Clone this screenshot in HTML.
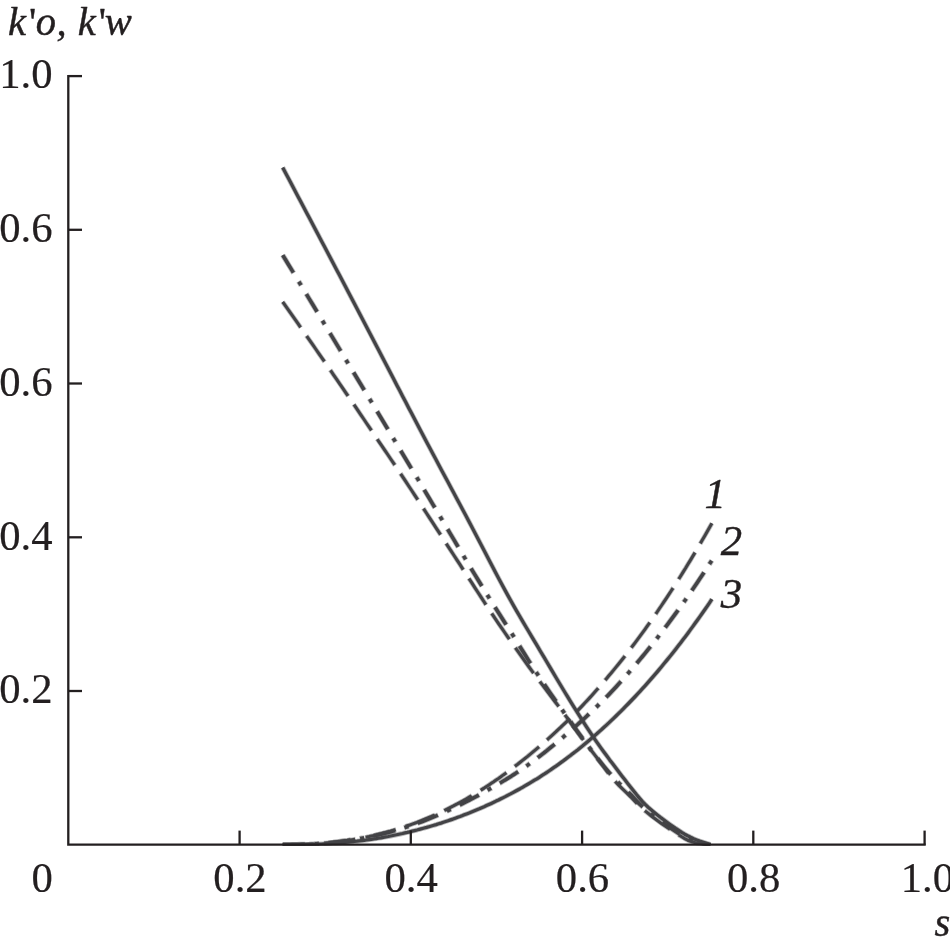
<!DOCTYPE html>
<html lang="en">
<head>
<meta charset="utf-8">
<title>Relative permeability curves</title>
<style>
html,body{margin:0;padding:0;background:#fff;}
body{width:950px;height:948px;overflow:hidden;font-family:"Liberation Serif","Times New Roman",serif;}
svg{display:block;}
</style>
</head>
<body>
<svg width="950" height="948" viewBox="0 0 950 948">
<rect width="950" height="948" fill="#fff"/>
<defs><clipPath id="plot"><rect x="0" y="0" width="950" height="845.85"/></clipPath></defs>
<g stroke="#434346" fill="none" stroke-linejoin="round" clip-path="url(#plot)">
<path d="M282.7,167.5 L285.7,173.2 L288.7,178.8 L291.7,184.5 L294.7,190.2 L297.7,195.9 L300.7,201.6 L303.7,207.2 L306.7,212.9 L309.7,218.6 L312.7,224.3 L315.7,230.0 L318.7,235.7 L321.7,241.4 L324.7,247.1 L327.7,252.8 L330.7,258.5 L333.7,264.2 L336.7,269.9 L339.7,275.6 L342.7,281.3 L345.7,287.0 L348.7,292.8 L351.7,298.5 L354.7,304.2 L357.7,309.9 L360.7,315.7 L363.7,321.4 L366.7,327.2 L369.7,332.9 L372.7,338.7 L375.7,344.5 L378.7,350.2 L381.7,356.0 L384.7,361.8 L387.7,367.5 L390.7,373.3 L393.7,379.1 L396.7,384.9 L399.7,390.6 L402.7,396.4 L405.7,402.1 L408.7,407.9 L411.7,413.6 L414.7,419.3 L417.7,425.1 L420.7,430.8 L423.7,436.5 L426.7,442.2 L429.7,447.8 L432.7,453.5 L435.7,459.1 L438.7,464.8 L441.7,470.4 L444.7,476.0 L447.7,481.6 L450.7,487.2 L453.7,492.8 L456.7,498.5 L459.7,504.1 L462.7,509.7 L465.7,515.3 L468.7,521.0 L471.7,526.7 L474.7,532.4 L477.7,538.2 L480.7,543.9 L483.7,549.7 L486.7,555.5 L489.7,561.3 L492.7,567.0 L495.7,572.8 L498.7,578.4 L501.7,584.1 L504.7,589.6 L507.7,595.1 L510.7,600.5 L513.7,605.9 L516.7,611.1 L519.7,616.3 L522.7,621.4 L525.7,626.5 L528.7,631.5 L531.7,636.6 L534.7,641.6 L537.7,646.6 L540.7,651.7 L543.7,656.7 L546.7,661.8 L549.7,666.8 L552.7,671.9 L555.7,677.0 L558.7,682.0 L561.7,687.0 L564.7,692.0 L567.7,696.9 L570.7,701.8 L573.7,706.7 L576.7,711.5 L579.7,716.2 L582.7,720.9 L585.7,725.6 L588.7,730.2 L591.7,734.7 L594.7,739.1 L597.7,743.4 L600.7,747.6 L603.7,751.8 L606.7,755.8 L609.7,759.9 L612.7,763.8 L615.7,767.8 L618.7,771.8 L621.7,775.7 L624.7,779.6 L627.7,783.4 L630.7,787.2 L633.7,791.0 L636.7,794.8 L639.7,798.4 L642.7,801.8 L645.7,804.9 L648.7,807.7 L651.7,810.3 L654.7,812.8 L657.7,815.2 L660.7,817.6 L663.7,819.8 L666.7,822.0 L669.7,824.2 L672.7,826.3 L675.7,828.4 L678.7,830.4 L681.7,832.4 L684.7,834.2 L687.7,835.8 L690.7,837.3 L693.7,838.7 L696.7,839.9 L699.7,841.1 L702.7,842.1 L705.7,843.1 L708.7,844.1 L710.5,844.7" stroke-width="4.9" stroke-opacity="0.36"/>
<path id="d3" d="M282.7,167.5 L285.7,173.2 L288.7,178.8 L291.7,184.5 L294.7,190.2 L297.7,195.9 L300.7,201.6 L303.7,207.2 L306.7,212.9 L309.7,218.6 L312.7,224.3 L315.7,230.0 L318.7,235.7 L321.7,241.4 L324.7,247.1 L327.7,252.8 L330.7,258.5 L333.7,264.2 L336.7,269.9 L339.7,275.6 L342.7,281.3 L345.7,287.0 L348.7,292.8 L351.7,298.5 L354.7,304.2 L357.7,309.9 L360.7,315.7 L363.7,321.4 L366.7,327.2 L369.7,332.9 L372.7,338.7 L375.7,344.5 L378.7,350.2 L381.7,356.0 L384.7,361.8 L387.7,367.5 L390.7,373.3 L393.7,379.1 L396.7,384.9 L399.7,390.6 L402.7,396.4 L405.7,402.1 L408.7,407.9 L411.7,413.6 L414.7,419.3 L417.7,425.1 L420.7,430.8 L423.7,436.5 L426.7,442.2 L429.7,447.8 L432.7,453.5 L435.7,459.1 L438.7,464.8 L441.7,470.4 L444.7,476.0 L447.7,481.6 L450.7,487.2 L453.7,492.8 L456.7,498.5 L459.7,504.1 L462.7,509.7 L465.7,515.3 L468.7,521.0 L471.7,526.7 L474.7,532.4 L477.7,538.2 L480.7,543.9 L483.7,549.7 L486.7,555.5 L489.7,561.3 L492.7,567.0 L495.7,572.8 L498.7,578.4 L501.7,584.1 L504.7,589.6 L507.7,595.1 L510.7,600.5 L513.7,605.9 L516.7,611.1 L519.7,616.3 L522.7,621.4 L525.7,626.5 L528.7,631.5 L531.7,636.6 L534.7,641.6 L537.7,646.6 L540.7,651.7 L543.7,656.7 L546.7,661.8 L549.7,666.8 L552.7,671.9 L555.7,677.0 L558.7,682.0 L561.7,687.0 L564.7,692.0 L567.7,696.9 L570.7,701.8 L573.7,706.7 L576.7,711.5 L579.7,716.2 L582.7,720.9 L585.7,725.6 L588.7,730.2 L591.7,734.7 L594.7,739.1 L597.7,743.4 L600.7,747.6 L603.7,751.8 L606.7,755.8 L609.7,759.9 L612.7,763.8 L615.7,767.8 L618.7,771.8 L621.7,775.7 L624.7,779.6 L627.7,783.4 L630.7,787.2 L633.7,791.0 L636.7,794.8 L639.7,798.4 L642.7,801.8 L645.7,804.9 L648.7,807.7 L651.7,810.3 L654.7,812.8 L657.7,815.2 L660.7,817.6 L663.7,819.8 L666.7,822.0 L669.7,824.2 L672.7,826.3 L675.7,828.4 L678.7,830.4 L681.7,832.4 L684.7,834.2 L687.7,835.8 L690.7,837.3 L693.7,838.7 L696.7,839.9 L699.7,841.1 L702.7,842.1 L705.7,843.1 L708.7,844.1 L710.5,844.7" stroke-width="3.25"/>
<path d="M282.7,255.1 L285.7,260.0 L288.7,265.0 L291.7,269.9 L294.7,274.8 L297.7,279.8 L300.7,284.7 L303.7,289.6 L306.7,294.6 L309.7,299.6 L312.7,304.5 L315.7,309.5 L318.7,314.5 L321.7,319.5 L324.7,324.5 L327.7,329.5 L330.7,334.4 L333.7,339.4 L336.7,344.4 L339.7,349.4 L342.7,354.4 L345.7,359.4 L348.7,364.4 L351.7,369.4 L354.7,374.3 L357.7,379.3 L360.7,384.2 L363.7,389.2 L366.7,394.1 L369.7,399.1 L372.7,404.1 L375.7,409.0 L378.7,414.0 L381.7,419.0 L384.7,424.0 L387.7,429.0 L390.7,434.0 L393.7,439.0 L396.7,444.0 L399.7,449.0 L402.7,454.0 L405.7,459.0 L408.7,464.0 L411.7,469.0 L414.7,474.0 L417.7,478.9 L420.7,483.9 L423.7,489.0 L426.7,494.0 L429.7,499.0 L432.7,504.1 L435.7,509.1 L438.7,514.2 L441.7,519.2 L444.7,524.3 L447.7,529.3 L450.7,534.4 L453.7,539.4 L456.7,544.5 L459.7,549.5 L462.7,554.5 L465.7,559.5 L468.7,564.5 L471.7,569.5 L474.7,574.4 L477.7,579.3 L480.7,584.2 L483.7,589.1 L486.7,593.9 L489.7,598.8 L492.7,603.5 L495.7,608.3 L498.7,613.0 L501.7,617.7 L504.7,622.5 L507.7,627.2 L510.7,631.9 L513.7,636.6 L516.7,641.4 L519.7,646.2 L522.7,651.0 L525.7,655.8 L528.7,660.6 L531.7,665.3 L534.7,670.0 L537.7,674.5 L540.7,679.0 L543.7,683.5 L546.7,687.8 L549.7,692.2 L552.7,696.5 L555.7,700.7 L558.7,705.0 L561.7,709.2 L564.7,713.5 L567.7,717.7 L570.7,721.9 L573.7,726.2 L576.7,730.3 L579.7,734.5 L582.7,738.6 L585.7,742.7 L588.7,746.7 L591.7,750.8 L594.7,754.7 L597.7,758.6 L600.7,762.4 L603.7,766.1 L606.7,769.7 L609.7,773.2 L612.7,776.6 L615.7,779.9 L618.7,782.9 L621.7,785.8 L624.7,788.7 L627.7,791.6 L630.7,794.6 L633.7,797.8 L636.7,801.1 L639.7,804.1 L642.7,806.9 L645.7,809.6 L648.7,812.2 L651.7,814.6 L654.7,816.9 L657.7,819.1 L660.7,821.3 L663.7,823.4 L666.7,825.5 L669.7,827.5 L672.7,829.5 L675.7,831.5 L678.7,833.5 L681.7,835.4 L684.7,837.2 L687.7,838.8 L690.7,840.1 L693.7,841.2 L696.7,842.1 L699.7,842.9 L702.7,843.5 L705.7,844.0 L708.7,844.5 L710.5,844.7" stroke-width="5.3" stroke-opacity="0.36" stroke-dasharray="21.5 9.6 5 9.6" stroke-dashoffset="0.5"/>
<path id="d2" d="M282.7,255.1 L285.7,260.0 L288.7,265.0 L291.7,269.9 L294.7,274.8 L297.7,279.8 L300.7,284.7 L303.7,289.6 L306.7,294.6 L309.7,299.6 L312.7,304.5 L315.7,309.5 L318.7,314.5 L321.7,319.5 L324.7,324.5 L327.7,329.5 L330.7,334.4 L333.7,339.4 L336.7,344.4 L339.7,349.4 L342.7,354.4 L345.7,359.4 L348.7,364.4 L351.7,369.4 L354.7,374.3 L357.7,379.3 L360.7,384.2 L363.7,389.2 L366.7,394.1 L369.7,399.1 L372.7,404.1 L375.7,409.0 L378.7,414.0 L381.7,419.0 L384.7,424.0 L387.7,429.0 L390.7,434.0 L393.7,439.0 L396.7,444.0 L399.7,449.0 L402.7,454.0 L405.7,459.0 L408.7,464.0 L411.7,469.0 L414.7,474.0 L417.7,478.9 L420.7,483.9 L423.7,489.0 L426.7,494.0 L429.7,499.0 L432.7,504.1 L435.7,509.1 L438.7,514.2 L441.7,519.2 L444.7,524.3 L447.7,529.3 L450.7,534.4 L453.7,539.4 L456.7,544.5 L459.7,549.5 L462.7,554.5 L465.7,559.5 L468.7,564.5 L471.7,569.5 L474.7,574.4 L477.7,579.3 L480.7,584.2 L483.7,589.1 L486.7,593.9 L489.7,598.8 L492.7,603.5 L495.7,608.3 L498.7,613.0 L501.7,617.7 L504.7,622.5 L507.7,627.2 L510.7,631.9 L513.7,636.6 L516.7,641.4 L519.7,646.2 L522.7,651.0 L525.7,655.8 L528.7,660.6 L531.7,665.3 L534.7,670.0 L537.7,674.5 L540.7,679.0 L543.7,683.5 L546.7,687.8 L549.7,692.2 L552.7,696.5 L555.7,700.7 L558.7,705.0 L561.7,709.2 L564.7,713.5 L567.7,717.7 L570.7,721.9 L573.7,726.2 L576.7,730.3 L579.7,734.5 L582.7,738.6 L585.7,742.7 L588.7,746.7 L591.7,750.8 L594.7,754.7 L597.7,758.6 L600.7,762.4 L603.7,766.1 L606.7,769.7 L609.7,773.2 L612.7,776.6 L615.7,779.9 L618.7,782.9 L621.7,785.8 L624.7,788.7 L627.7,791.6 L630.7,794.6 L633.7,797.8 L636.7,801.1 L639.7,804.1 L642.7,806.9 L645.7,809.6 L648.7,812.2 L651.7,814.6 L654.7,816.9 L657.7,819.1 L660.7,821.3 L663.7,823.4 L666.7,825.5 L669.7,827.5 L672.7,829.5 L675.7,831.5 L678.7,833.5 L681.7,835.4 L684.7,837.2 L687.7,838.8 L690.7,840.1 L693.7,841.2 L696.7,842.1 L699.7,842.9 L702.7,843.5 L705.7,844.0 L708.7,844.5 L710.5,844.7" stroke-width="3.65" stroke-dasharray="20.5 10.6 4 10.6" stroke-dashoffset="0"/>
<path d="M282.7,301.9 L285.7,306.1 L288.7,310.4 L291.7,314.7 L294.7,318.9 L297.7,323.2 L300.7,327.5 L303.7,331.8 L306.7,336.1 L309.7,340.4 L312.7,344.7 L315.7,349.0 L318.7,353.3 L321.7,357.7 L324.7,362.0 L327.7,366.4 L330.7,370.7 L333.7,375.1 L336.7,379.4 L339.7,383.8 L342.7,388.2 L345.7,392.6 L348.7,397.0 L351.7,401.3 L354.7,405.7 L357.7,410.1 L360.7,414.6 L363.7,419.0 L366.7,423.5 L369.7,427.9 L372.7,432.4 L375.7,436.8 L378.7,441.3 L381.7,445.7 L384.7,450.1 L387.7,454.5 L390.7,459.0 L393.7,463.4 L396.7,467.9 L399.7,472.3 L402.7,476.9 L405.7,481.4 L408.7,486.0 L411.7,490.5 L414.7,495.1 L417.7,499.7 L420.7,504.3 L423.7,508.9 L426.7,513.5 L429.7,518.1 L432.7,522.7 L435.7,527.3 L438.7,531.9 L441.7,536.5 L444.7,541.2 L447.7,545.8 L450.7,550.4 L453.7,555.0 L456.7,559.6 L459.7,564.2 L462.7,568.9 L465.7,573.5 L468.7,578.1 L471.7,582.7 L474.7,587.4 L477.7,592.0 L480.7,596.6 L483.7,601.3 L486.7,605.9 L489.7,610.4 L492.7,614.9 L495.7,619.3 L498.7,623.8 L501.7,628.1 L504.7,632.5 L507.7,636.8 L510.7,641.1 L513.7,645.4 L516.7,649.7 L519.7,653.9 L522.7,658.2 L525.7,662.4 L528.7,666.5 L531.7,670.6 L534.7,674.7 L537.7,678.7 L540.7,682.7 L543.7,686.7 L546.7,690.7 L549.7,694.6 L552.7,698.5 L555.7,702.5 L558.7,706.4 L561.7,710.4 L564.7,714.5 L567.7,718.6 L570.7,722.7 L573.7,726.8 L576.7,731.0 L579.7,735.0 L582.7,739.1 L585.7,743.1 L588.7,747.1 L591.7,751.0 L594.7,754.9 L597.7,758.8 L600.7,762.7 L603.7,766.7 L606.7,770.8 L609.7,774.8 L612.7,778.6 L615.7,782.0 L618.7,785.2 L621.7,788.1 L624.7,791.0 L627.7,793.8 L630.7,796.8 L633.7,800.0 L636.7,803.1 L639.7,806.1 L642.7,808.8 L645.7,811.4 L648.7,813.8 L651.7,816.2 L654.7,818.5 L657.7,820.7 L660.7,822.9 L663.7,825.0 L666.7,827.0 L669.7,829.1 L672.7,831.0 L675.7,833.0 L678.7,834.9 L681.7,836.8 L684.7,838.6 L687.7,840.2 L690.7,841.3 L693.7,842.3 L696.7,843.1 L699.7,843.6 L702.7,844.0 L705.7,844.4 L708.7,844.6 L710.5,844.7" stroke-width="4.7" stroke-opacity="0.36" stroke-dasharray="32 9.7" stroke-dashoffset="0.5"/>
<path id="d1" d="M282.7,301.9 L285.7,306.1 L288.7,310.4 L291.7,314.7 L294.7,318.9 L297.7,323.2 L300.7,327.5 L303.7,331.8 L306.7,336.1 L309.7,340.4 L312.7,344.7 L315.7,349.0 L318.7,353.3 L321.7,357.7 L324.7,362.0 L327.7,366.4 L330.7,370.7 L333.7,375.1 L336.7,379.4 L339.7,383.8 L342.7,388.2 L345.7,392.6 L348.7,397.0 L351.7,401.3 L354.7,405.7 L357.7,410.1 L360.7,414.6 L363.7,419.0 L366.7,423.5 L369.7,427.9 L372.7,432.4 L375.7,436.8 L378.7,441.3 L381.7,445.7 L384.7,450.1 L387.7,454.5 L390.7,459.0 L393.7,463.4 L396.7,467.9 L399.7,472.3 L402.7,476.9 L405.7,481.4 L408.7,486.0 L411.7,490.5 L414.7,495.1 L417.7,499.7 L420.7,504.3 L423.7,508.9 L426.7,513.5 L429.7,518.1 L432.7,522.7 L435.7,527.3 L438.7,531.9 L441.7,536.5 L444.7,541.2 L447.7,545.8 L450.7,550.4 L453.7,555.0 L456.7,559.6 L459.7,564.2 L462.7,568.9 L465.7,573.5 L468.7,578.1 L471.7,582.7 L474.7,587.4 L477.7,592.0 L480.7,596.6 L483.7,601.3 L486.7,605.9 L489.7,610.4 L492.7,614.9 L495.7,619.3 L498.7,623.8 L501.7,628.1 L504.7,632.5 L507.7,636.8 L510.7,641.1 L513.7,645.4 L516.7,649.7 L519.7,653.9 L522.7,658.2 L525.7,662.4 L528.7,666.5 L531.7,670.6 L534.7,674.7 L537.7,678.7 L540.7,682.7 L543.7,686.7 L546.7,690.7 L549.7,694.6 L552.7,698.5 L555.7,702.5 L558.7,706.4 L561.7,710.4 L564.7,714.5 L567.7,718.6 L570.7,722.7 L573.7,726.8 L576.7,731.0 L579.7,735.0 L582.7,739.1 L585.7,743.1 L588.7,747.1 L591.7,751.0 L594.7,754.9 L597.7,758.8 L600.7,762.7 L603.7,766.7 L606.7,770.8 L609.7,774.8 L612.7,778.6 L615.7,782.0 L618.7,785.2 L621.7,788.1 L624.7,791.0 L627.7,793.8 L630.7,796.8 L633.7,800.0 L636.7,803.1 L639.7,806.1 L642.7,808.8 L645.7,811.4 L648.7,813.8 L651.7,816.2 L654.7,818.5 L657.7,820.7 L660.7,822.9 L663.7,825.0 L666.7,827.0 L669.7,829.1 L672.7,831.0 L675.7,833.0 L678.7,834.9 L681.7,836.8 L684.7,838.6 L687.7,840.2 L690.7,841.3 L693.7,842.3 L696.7,843.1 L699.7,843.6 L702.7,844.0 L705.7,844.4 L708.7,844.6 L710.5,844.7" stroke-width="3.05" stroke-dasharray="31 10.7" stroke-dashoffset="0"/>
<path d="M282.7,844.7 L285.1,844.7 L287.5,844.7 L289.9,844.7 L292.3,844.7 L294.7,844.7 L297.1,844.6 L299.5,844.6 L301.9,844.6 L304.3,844.5 L306.7,844.5 L309.1,844.4 L311.5,844.3 L313.9,844.3 L316.3,844.2 L318.7,844.1 L321.1,844.0 L323.5,843.9 L325.9,843.8 L328.3,843.6 L330.7,843.5 L333.1,843.3 L335.5,843.2 L337.8,843.0 L340.2,842.8 L342.6,842.6 L345.0,842.4 L347.4,842.2 L349.8,841.9 L352.2,841.7 L354.6,841.4 L357.0,841.2 L359.4,840.9 L361.8,840.6 L364.2,840.3 L366.6,840.0 L369.0,839.6 L371.4,839.3 L373.8,838.9 L376.2,838.6 L378.6,838.2 L381.0,837.8 L383.4,837.3 L385.8,836.9 L388.2,836.5 L390.6,836.0 L393.0,835.5 L395.4,835.0 L397.8,834.5 L400.2,834.0 L402.6,833.5 L405.0,832.9 L407.4,832.4 L409.8,831.8 L412.2,831.2 L414.6,830.6 L417.0,830.0 L419.4,829.3 L421.8,828.7 L424.2,828.0 L426.6,827.4 L429.0,826.7 L431.4,826.0 L433.8,825.3 L436.2,824.6 L438.6,823.8 L441.0,823.1 L443.4,822.3 L445.7,821.5 L448.1,820.7 L450.5,819.9 L452.9,819.1 L455.3,818.2 L457.7,817.3 L460.1,816.5 L462.5,815.6 L464.9,814.6 L467.3,813.7 L469.7,812.8 L472.1,811.8 L474.5,810.8 L476.9,809.8 L479.3,808.8 L481.7,807.7 L484.1,806.7 L486.5,805.6 L488.9,804.5 L491.3,803.4 L493.7,802.3 L496.1,801.1 L498.5,800.0 L500.9,798.8 L503.3,797.6 L505.7,796.4 L508.1,795.1 L510.5,793.9 L512.9,792.6 L515.3,791.3 L517.7,790.0 L520.1,788.7 L522.5,787.3 L524.9,785.9 L527.3,784.5 L529.7,783.1 L532.1,781.7 L534.5,780.2 L536.9,778.8 L539.3,777.3 L541.7,775.7 L544.1,774.2 L546.5,772.6 L548.9,771.0 L551.2,769.4 L553.6,767.7 L556.0,766.1 L558.4,764.4 L560.8,762.6 L563.2,760.9 L565.6,759.1 L568.0,757.3 L570.4,755.5 L572.8,753.6 L575.2,751.8 L577.6,749.9 L580.0,747.9 L582.4,746.0 L584.8,744.0 L587.2,742.0 L589.6,740.0 L592.0,737.9 L594.4,735.9 L596.8,733.8 L599.2,731.6 L601.6,729.5 L604.0,727.3 L606.4,725.1 L608.8,722.9 L611.2,720.6 L613.6,718.3 L616.0,716.0 L618.4,713.6 L620.8,711.3 L623.2,708.9 L625.6,706.4 L628.0,704.0 L630.4,701.5 L632.8,699.0 L635.2,696.5 L637.6,693.9 L640.0,691.3 L642.4,688.7 L644.8,686.1 L647.2,683.4 L649.6,680.7 L652.0,677.9 L654.4,675.2 L656.8,672.4 L659.1,669.6 L661.5,666.7 L663.9,663.8 L666.3,660.9 L668.7,657.9 L671.1,655.0 L673.5,651.9 L675.9,648.9 L678.3,645.8 L680.7,642.7 L683.1,639.6 L685.5,636.4 L687.9,633.2 L690.3,629.9 L692.7,626.6 L695.1,623.3 L697.5,620.0 L699.9,616.6 L702.3,613.2 L704.7,609.8 L707.1,606.3 L709.5,602.8 L711.9,599.2" stroke-width="4.9" stroke-opacity="0.36"/>
<path id="a3" d="M282.7,844.7 L285.1,844.7 L287.5,844.7 L289.9,844.7 L292.3,844.7 L294.7,844.7 L297.1,844.6 L299.5,844.6 L301.9,844.6 L304.3,844.5 L306.7,844.5 L309.1,844.4 L311.5,844.3 L313.9,844.3 L316.3,844.2 L318.7,844.1 L321.1,844.0 L323.5,843.9 L325.9,843.8 L328.3,843.6 L330.7,843.5 L333.1,843.3 L335.5,843.2 L337.8,843.0 L340.2,842.8 L342.6,842.6 L345.0,842.4 L347.4,842.2 L349.8,841.9 L352.2,841.7 L354.6,841.4 L357.0,841.2 L359.4,840.9 L361.8,840.6 L364.2,840.3 L366.6,840.0 L369.0,839.6 L371.4,839.3 L373.8,838.9 L376.2,838.6 L378.6,838.2 L381.0,837.8 L383.4,837.3 L385.8,836.9 L388.2,836.5 L390.6,836.0 L393.0,835.5 L395.4,835.0 L397.8,834.5 L400.2,834.0 L402.6,833.5 L405.0,832.9 L407.4,832.4 L409.8,831.8 L412.2,831.2 L414.6,830.6 L417.0,830.0 L419.4,829.3 L421.8,828.7 L424.2,828.0 L426.6,827.4 L429.0,826.7 L431.4,826.0 L433.8,825.3 L436.2,824.6 L438.6,823.8 L441.0,823.1 L443.4,822.3 L445.7,821.5 L448.1,820.7 L450.5,819.9 L452.9,819.1 L455.3,818.2 L457.7,817.3 L460.1,816.5 L462.5,815.6 L464.9,814.6 L467.3,813.7 L469.7,812.8 L472.1,811.8 L474.5,810.8 L476.9,809.8 L479.3,808.8 L481.7,807.7 L484.1,806.7 L486.5,805.6 L488.9,804.5 L491.3,803.4 L493.7,802.3 L496.1,801.1 L498.5,800.0 L500.9,798.8 L503.3,797.6 L505.7,796.4 L508.1,795.1 L510.5,793.9 L512.9,792.6 L515.3,791.3 L517.7,790.0 L520.1,788.7 L522.5,787.3 L524.9,785.9 L527.3,784.5 L529.7,783.1 L532.1,781.7 L534.5,780.2 L536.9,778.8 L539.3,777.3 L541.7,775.7 L544.1,774.2 L546.5,772.6 L548.9,771.0 L551.2,769.4 L553.6,767.7 L556.0,766.1 L558.4,764.4 L560.8,762.6 L563.2,760.9 L565.6,759.1 L568.0,757.3 L570.4,755.5 L572.8,753.6 L575.2,751.8 L577.6,749.9 L580.0,747.9 L582.4,746.0 L584.8,744.0 L587.2,742.0 L589.6,740.0 L592.0,737.9 L594.4,735.9 L596.8,733.8 L599.2,731.6 L601.6,729.5 L604.0,727.3 L606.4,725.1 L608.8,722.9 L611.2,720.6 L613.6,718.3 L616.0,716.0 L618.4,713.6 L620.8,711.3 L623.2,708.9 L625.6,706.4 L628.0,704.0 L630.4,701.5 L632.8,699.0 L635.2,696.5 L637.6,693.9 L640.0,691.3 L642.4,688.7 L644.8,686.1 L647.2,683.4 L649.6,680.7 L652.0,677.9 L654.4,675.2 L656.8,672.4 L659.1,669.6 L661.5,666.7 L663.9,663.8 L666.3,660.9 L668.7,657.9 L671.1,655.0 L673.5,651.9 L675.9,648.9 L678.3,645.8 L680.7,642.7 L683.1,639.6 L685.5,636.4 L687.9,633.2 L690.3,629.9 L692.7,626.6 L695.1,623.3 L697.5,620.0 L699.9,616.6 L702.3,613.2 L704.7,609.8 L707.1,606.3 L709.5,602.8 L711.9,599.2" stroke-width="3.25"/>
<path d="M282.7,844.7 L285.1,844.7 L287.5,844.7 L289.9,844.7 L292.3,844.6 L294.7,844.6 L297.1,844.6 L299.5,844.5 L301.9,844.4 L304.3,844.3 L306.7,844.3 L309.1,844.1 L311.5,844.0 L313.9,843.9 L316.3,843.8 L318.7,843.6 L321.1,843.4 L323.5,843.2 L325.9,843.0 L328.3,842.8 L330.7,842.6 L333.1,842.4 L335.5,842.1 L337.8,841.8 L340.2,841.5 L342.6,841.2 L345.0,840.9 L347.4,840.6 L349.8,840.2 L352.2,839.9 L354.6,839.5 L357.0,839.1 L359.4,838.7 L361.8,838.2 L364.2,837.8 L366.6,837.3 L369.0,836.8 L371.4,836.3 L373.8,835.8 L376.2,835.3 L378.6,834.7 L381.0,834.2 L383.4,833.6 L385.8,833.0 L388.2,832.4 L390.6,831.7 L393.0,831.1 L395.4,830.4 L397.8,829.7 L400.2,829.0 L402.6,828.3 L405.0,827.5 L407.4,826.8 L409.8,826.0 L412.2,825.2 L414.6,824.3 L417.0,823.5 L419.4,822.6 L421.8,821.7 L424.2,820.8 L426.6,819.8 L429.0,818.9 L431.4,817.9 L433.8,816.9 L436.2,815.9 L438.6,814.8 L441.0,813.8 L443.4,812.7 L445.7,811.6 L448.1,810.5 L450.5,809.4 L452.9,808.3 L455.3,807.1 L457.7,806.0 L460.1,804.8 L462.5,803.6 L464.9,802.4 L467.3,801.2 L469.7,800.0 L472.1,798.7 L474.5,797.4 L476.9,796.2 L479.3,794.8 L481.7,793.5 L484.1,792.2 L486.5,790.8 L488.9,789.4 L491.3,788.1 L493.7,786.7 L496.1,785.3 L498.5,783.9 L500.9,782.5 L503.3,781.0 L505.7,779.6 L508.1,778.1 L510.5,776.7 L512.9,775.1 L515.3,773.6 L517.7,772.0 L520.1,770.4 L522.5,768.7 L524.9,767.1 L527.3,765.4 L529.7,763.6 L532.1,761.9 L534.5,760.1 L536.9,758.3 L539.3,756.5 L541.7,754.6 L544.1,752.8 L546.5,750.9 L548.9,748.9 L551.2,747.0 L553.6,745.1 L556.0,743.1 L558.4,741.1 L560.8,739.1 L563.2,737.1 L565.6,735.0 L568.0,732.9 L570.4,730.9 L572.8,728.8 L575.2,726.6 L577.6,724.5 L580.0,722.3 L582.4,720.2 L584.8,718.0 L587.2,715.7 L589.6,713.5 L592.0,711.2 L594.4,708.9 L596.8,706.6 L599.2,704.2 L601.6,701.8 L604.0,699.4 L606.4,697.0 L608.8,694.6 L611.2,692.1 L613.6,689.5 L616.0,686.9 L618.4,684.3 L620.8,681.6 L623.2,679.0 L625.6,676.2 L628.0,673.5 L630.4,670.7 L632.8,667.9 L635.2,665.1 L637.6,662.3 L640.0,659.4 L642.4,656.5 L644.8,653.6 L647.2,650.6 L649.6,647.7 L652.0,644.7 L654.4,641.6 L656.8,638.6 L659.1,635.5 L661.5,632.4 L663.9,629.2 L666.3,626.1 L668.7,622.9 L671.1,619.6 L673.5,616.4 L675.9,613.1 L678.3,609.8 L680.7,606.4 L683.1,603.1 L685.5,599.7 L687.9,596.2 L690.3,592.8 L692.7,589.3 L695.1,585.8 L697.5,582.2 L699.9,578.6 L702.3,575.0 L704.7,571.4 L707.1,567.7 L709.5,564.0 L711.9,560.3" stroke-width="5.3" stroke-opacity="0.36" stroke-dasharray="22.5 9.1 5 9.1" stroke-dashoffset="0"/>
<path id="a2" d="M282.7,844.7 L285.1,844.7 L287.5,844.7 L289.9,844.7 L292.3,844.6 L294.7,844.6 L297.1,844.6 L299.5,844.5 L301.9,844.4 L304.3,844.3 L306.7,844.3 L309.1,844.1 L311.5,844.0 L313.9,843.9 L316.3,843.8 L318.7,843.6 L321.1,843.4 L323.5,843.2 L325.9,843.0 L328.3,842.8 L330.7,842.6 L333.1,842.4 L335.5,842.1 L337.8,841.8 L340.2,841.5 L342.6,841.2 L345.0,840.9 L347.4,840.6 L349.8,840.2 L352.2,839.9 L354.6,839.5 L357.0,839.1 L359.4,838.7 L361.8,838.2 L364.2,837.8 L366.6,837.3 L369.0,836.8 L371.4,836.3 L373.8,835.8 L376.2,835.3 L378.6,834.7 L381.0,834.2 L383.4,833.6 L385.8,833.0 L388.2,832.4 L390.6,831.7 L393.0,831.1 L395.4,830.4 L397.8,829.7 L400.2,829.0 L402.6,828.3 L405.0,827.5 L407.4,826.8 L409.8,826.0 L412.2,825.2 L414.6,824.3 L417.0,823.5 L419.4,822.6 L421.8,821.7 L424.2,820.8 L426.6,819.8 L429.0,818.9 L431.4,817.9 L433.8,816.9 L436.2,815.9 L438.6,814.8 L441.0,813.8 L443.4,812.7 L445.7,811.6 L448.1,810.5 L450.5,809.4 L452.9,808.3 L455.3,807.1 L457.7,806.0 L460.1,804.8 L462.5,803.6 L464.9,802.4 L467.3,801.2 L469.7,800.0 L472.1,798.7 L474.5,797.4 L476.9,796.2 L479.3,794.8 L481.7,793.5 L484.1,792.2 L486.5,790.8 L488.9,789.4 L491.3,788.1 L493.7,786.7 L496.1,785.3 L498.5,783.9 L500.9,782.5 L503.3,781.0 L505.7,779.6 L508.1,778.1 L510.5,776.7 L512.9,775.1 L515.3,773.6 L517.7,772.0 L520.1,770.4 L522.5,768.7 L524.9,767.1 L527.3,765.4 L529.7,763.6 L532.1,761.9 L534.5,760.1 L536.9,758.3 L539.3,756.5 L541.7,754.6 L544.1,752.8 L546.5,750.9 L548.9,748.9 L551.2,747.0 L553.6,745.1 L556.0,743.1 L558.4,741.1 L560.8,739.1 L563.2,737.1 L565.6,735.0 L568.0,732.9 L570.4,730.9 L572.8,728.8 L575.2,726.6 L577.6,724.5 L580.0,722.3 L582.4,720.2 L584.8,718.0 L587.2,715.7 L589.6,713.5 L592.0,711.2 L594.4,708.9 L596.8,706.6 L599.2,704.2 L601.6,701.8 L604.0,699.4 L606.4,697.0 L608.8,694.6 L611.2,692.1 L613.6,689.5 L616.0,686.9 L618.4,684.3 L620.8,681.6 L623.2,679.0 L625.6,676.2 L628.0,673.5 L630.4,670.7 L632.8,667.9 L635.2,665.1 L637.6,662.3 L640.0,659.4 L642.4,656.5 L644.8,653.6 L647.2,650.6 L649.6,647.7 L652.0,644.7 L654.4,641.6 L656.8,638.6 L659.1,635.5 L661.5,632.4 L663.9,629.2 L666.3,626.1 L668.7,622.9 L671.1,619.6 L673.5,616.4 L675.9,613.1 L678.3,609.8 L680.7,606.4 L683.1,603.1 L685.5,599.7 L687.9,596.2 L690.3,592.8 L692.7,589.3 L695.1,585.8 L697.5,582.2 L699.9,578.6 L702.3,575.0 L704.7,571.4 L707.1,567.7 L709.5,564.0 L711.9,560.3" stroke-width="3.65" stroke-dasharray="21.5 10.1 4 10.1" stroke-dashoffset="-0.5"/>
<path d="M282.7,844.7 L285.1,844.7 L287.5,844.7 L289.9,844.7 L292.3,844.6 L294.7,844.6 L297.1,844.6 L299.5,844.5 L301.9,844.4 L304.3,844.4 L306.7,844.3 L309.1,844.2 L311.5,844.0 L313.9,843.9 L316.3,843.7 L318.7,843.6 L321.1,843.4 L323.5,843.2 L325.9,843.0 L328.3,842.8 L330.7,842.6 L333.1,842.3 L335.5,842.0 L337.8,841.8 L340.2,841.5 L342.6,841.1 L345.0,840.8 L347.4,840.5 L349.8,840.1 L352.2,839.7 L354.6,839.3 L357.0,838.9 L359.4,838.5 L361.8,838.0 L364.2,837.5 L366.6,837.1 L369.0,836.6 L371.4,836.0 L373.8,835.5 L376.2,834.9 L378.6,834.3 L381.0,833.7 L383.4,833.1 L385.8,832.5 L388.2,831.8 L390.6,831.2 L393.0,830.5 L395.4,829.7 L397.8,829.0 L400.2,828.2 L402.6,827.5 L405.0,826.7 L407.4,825.8 L409.8,825.0 L412.2,824.1 L414.6,823.3 L417.0,822.4 L419.4,821.4 L421.8,820.5 L424.2,819.5 L426.6,818.5 L429.0,817.5 L431.4,816.5 L433.8,815.4 L436.2,814.4 L438.6,813.3 L441.0,812.1 L443.4,811.0 L445.7,809.8 L448.1,808.6 L450.5,807.4 L452.9,806.2 L455.3,804.9 L457.7,803.7 L460.1,802.4 L462.5,801.0 L464.9,799.7 L467.3,798.3 L469.7,796.9 L472.1,795.5 L474.5,794.1 L476.9,792.6 L479.3,791.1 L481.7,789.6 L484.1,788.1 L486.5,786.5 L488.9,784.9 L491.3,783.3 L493.7,781.7 L496.1,780.0 L498.5,778.4 L500.9,776.7 L503.3,774.9 L505.7,773.2 L508.1,771.4 L510.5,769.6 L512.9,767.8 L515.3,766.0 L517.7,764.2 L520.1,762.3 L522.5,760.4 L524.9,758.5 L527.3,756.6 L529.7,754.6 L532.1,752.6 L534.5,750.6 L536.9,748.6 L539.3,746.6 L541.7,744.5 L544.1,742.4 L546.5,740.3 L548.9,738.2 L551.2,736.1 L553.6,733.9 L556.0,731.7 L558.4,729.4 L560.8,727.2 L563.2,724.9 L565.6,722.6 L568.0,720.3 L570.4,717.9 L572.8,715.5 L575.2,713.1 L577.6,710.6 L580.0,708.1 L582.4,705.6 L584.8,703.0 L587.2,700.5 L589.6,697.9 L592.0,695.2 L594.4,692.5 L596.8,689.8 L599.2,687.1 L601.6,684.3 L604.0,681.5 L606.4,678.7 L608.8,675.8 L611.2,673.0 L613.6,670.1 L616.0,667.1 L618.4,664.2 L620.8,661.2 L623.2,658.2 L625.6,655.1 L628.0,652.0 L630.4,648.9 L632.8,645.8 L635.2,642.6 L637.6,639.4 L640.0,636.2 L642.4,632.9 L644.8,629.6 L647.2,626.2 L649.6,622.9 L652.0,619.5 L654.4,616.0 L656.8,612.5 L659.1,609.0 L661.5,605.5 L663.9,601.9 L666.3,598.3 L668.7,594.7 L671.1,591.0 L673.5,587.3 L675.9,583.6 L678.3,579.8 L680.7,576.0 L683.1,572.1 L685.5,568.3 L687.9,564.3 L690.3,560.4 L692.7,556.4 L695.1,552.4 L697.5,548.3 L699.9,544.2 L702.3,540.1 L704.7,535.9 L707.1,531.8 L709.5,527.5 L711.9,523.3" stroke-width="4.7" stroke-opacity="0.36" stroke-dasharray="32 9.7" stroke-dashoffset="0.5"/>
<path id="a1" d="M282.7,844.7 L285.1,844.7 L287.5,844.7 L289.9,844.7 L292.3,844.6 L294.7,844.6 L297.1,844.6 L299.5,844.5 L301.9,844.4 L304.3,844.4 L306.7,844.3 L309.1,844.2 L311.5,844.0 L313.9,843.9 L316.3,843.7 L318.7,843.6 L321.1,843.4 L323.5,843.2 L325.9,843.0 L328.3,842.8 L330.7,842.6 L333.1,842.3 L335.5,842.0 L337.8,841.8 L340.2,841.5 L342.6,841.1 L345.0,840.8 L347.4,840.5 L349.8,840.1 L352.2,839.7 L354.6,839.3 L357.0,838.9 L359.4,838.5 L361.8,838.0 L364.2,837.5 L366.6,837.1 L369.0,836.6 L371.4,836.0 L373.8,835.5 L376.2,834.9 L378.6,834.3 L381.0,833.7 L383.4,833.1 L385.8,832.5 L388.2,831.8 L390.6,831.2 L393.0,830.5 L395.4,829.7 L397.8,829.0 L400.2,828.2 L402.6,827.5 L405.0,826.7 L407.4,825.8 L409.8,825.0 L412.2,824.1 L414.6,823.3 L417.0,822.4 L419.4,821.4 L421.8,820.5 L424.2,819.5 L426.6,818.5 L429.0,817.5 L431.4,816.5 L433.8,815.4 L436.2,814.4 L438.6,813.3 L441.0,812.1 L443.4,811.0 L445.7,809.8 L448.1,808.6 L450.5,807.4 L452.9,806.2 L455.3,804.9 L457.7,803.7 L460.1,802.4 L462.5,801.0 L464.9,799.7 L467.3,798.3 L469.7,796.9 L472.1,795.5 L474.5,794.1 L476.9,792.6 L479.3,791.1 L481.7,789.6 L484.1,788.1 L486.5,786.5 L488.9,784.9 L491.3,783.3 L493.7,781.7 L496.1,780.0 L498.5,778.4 L500.9,776.7 L503.3,774.9 L505.7,773.2 L508.1,771.4 L510.5,769.6 L512.9,767.8 L515.3,766.0 L517.7,764.2 L520.1,762.3 L522.5,760.4 L524.9,758.5 L527.3,756.6 L529.7,754.6 L532.1,752.6 L534.5,750.6 L536.9,748.6 L539.3,746.6 L541.7,744.5 L544.1,742.4 L546.5,740.3 L548.9,738.2 L551.2,736.1 L553.6,733.9 L556.0,731.7 L558.4,729.4 L560.8,727.2 L563.2,724.9 L565.6,722.6 L568.0,720.3 L570.4,717.9 L572.8,715.5 L575.2,713.1 L577.6,710.6 L580.0,708.1 L582.4,705.6 L584.8,703.0 L587.2,700.5 L589.6,697.9 L592.0,695.2 L594.4,692.5 L596.8,689.8 L599.2,687.1 L601.6,684.3 L604.0,681.5 L606.4,678.7 L608.8,675.8 L611.2,673.0 L613.6,670.1 L616.0,667.1 L618.4,664.2 L620.8,661.2 L623.2,658.2 L625.6,655.1 L628.0,652.0 L630.4,648.9 L632.8,645.8 L635.2,642.6 L637.6,639.4 L640.0,636.2 L642.4,632.9 L644.8,629.6 L647.2,626.2 L649.6,622.9 L652.0,619.5 L654.4,616.0 L656.8,612.5 L659.1,609.0 L661.5,605.5 L663.9,601.9 L666.3,598.3 L668.7,594.7 L671.1,591.0 L673.5,587.3 L675.9,583.6 L678.3,579.8 L680.7,576.0 L683.1,572.1 L685.5,568.3 L687.9,564.3 L690.3,560.4 L692.7,556.4 L695.1,552.4 L697.5,548.3 L699.9,544.2 L702.3,540.1 L704.7,535.9 L707.1,531.8 L709.5,527.5 L711.9,523.3" stroke-width="3.05" stroke-dasharray="31 10.7" stroke-dashoffset="0"/>
</g>
<g stroke="#231f20" stroke-width="2.3" fill="none" stroke-linecap="butt">
<path d="M68.3,74.95 V844.7 M67.15,844.7 H925.75"/>
<path d="M68.3,691.0 h13.7"/>
<path d="M68.3,537.3 h13.7"/>
<path d="M68.3,383.5 h13.7"/>
<path d="M68.3,229.8 h13.7"/>
<path d="M68.3,76.1 h13.7"/>
<path d="M239.6,844.7 v-14.1"/>
<path d="M410.8,844.7 v-14.1"/>
<path d="M582.1,844.7 v-14.1"/>
<path d="M753.3,844.7 v-14.1"/>
<path d="M924.6,844.7 v-14.1"/>
</g>
<g fill="#231f20" font-family="'Liberation Serif', 'Times New Roman', serif" font-size="42.7" stroke="#231f20" stroke-width="0.2" stroke-linejoin="round">
<text x="52.6" y="88.4" text-anchor="end">1.0</text>
<text x="52.6" y="242.1" text-anchor="end">0.6</text>
<text x="52.6" y="395.8" text-anchor="end">0.6</text>
<text x="52.6" y="549.6" text-anchor="end">0.4</text>
<text x="52.6" y="703.3" text-anchor="end">0.2</text>
<text x="42.1" y="892.3" text-anchor="middle">0</text>
<text x="240.0" y="892.3" text-anchor="middle">0.2</text>
<text x="411.2" y="892.3" text-anchor="middle">0.4</text>
<text x="582.5" y="892.3" text-anchor="middle">0.6</text>
<text x="753.7" y="892.3" text-anchor="middle">0.8</text>
<text x="927.4" y="892.3" text-anchor="middle">1.0</text>
</g>
<g fill="#231f20" font-family="'Liberation Serif', 'Times New Roman', serif" font-size="40.5" font-style="italic" stroke="#231f20" stroke-width="0.45" stroke-linejoin="round">
<text x="8.0" y="34.7" letter-spacing="0.5">k<tspan font-style="normal" dx="2.5">'</tspan><tspan dx="-1.1">o, k</tspan><tspan font-style="normal" dx="2.5">'</tspan><tspan dx="-1.8">w</tspan></text>
<text x="934.4" y="936.2">s</text>
<text x="704.6" y="507.8" font-size="42.7">1</text>
<text x="720.8" y="555.2" font-size="42.7">2</text>
<text x="720.8" y="607.8" font-size="42.7">3</text>
</g>
</svg>
</body>
</html>
